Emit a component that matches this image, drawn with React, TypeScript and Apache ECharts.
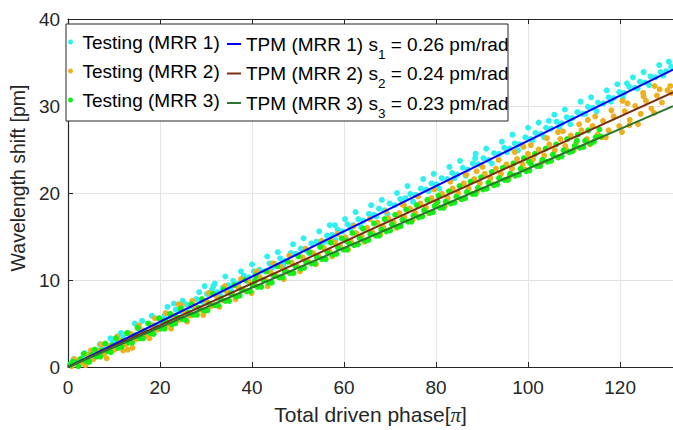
import React, { useEffect, useRef } from "react";
import * as echarts from "echarts";

const FONT = "'Liberation Sans', Arial, Helvetica, sans-serif";

const xTicks = [0, 20, 40, 60, 80, 100, 120];
const yTicks = [0, 10, 20, 30, 40];

const names = ["Testing (MRR 1)", "Testing (MRR 2)", "Testing (MRR 3)"];
const lineNames = ["TPM (MRR 1)", "TPM (MRR 2)", "TPM (MRR 3)"];
const slopes = ["0.26", "0.24", "0.23"];

const testing1: number[][] = [
  [0.5, 0.3], [1.8, 0.6], [3.0, 1.0], [4.1, 0.9], [5.3, 1.7], [6.2, 1.4], [7.5, 2.3], [8.6, 2.1], [9.7, 2.8], [10.9, 3.0],
  [12.0, 3.4], [13.2, 3.9], [14.1, 3.6], [15.4, 4.5], [16.5, 4.2], [17.6, 5.0], [18.8, 4.8], [19.9, 5.6], [21.0, 5.9], [22.3, 5.7],
  [23.4, 6.6], [24.5, 6.4], [25.7, 7.2], [26.8, 7.0], [27.9, 7.8], [29.1, 7.5], [30.2, 8.4], [31.3, 8.9], [32.5, 8.6], [33.6, 9.1],
  [34.8, 9.4], [35.9, 9.9], [37.0, 9.6], [38.2, 10.5], [39.3, 10.3], [40.4, 11.0], [41.6, 11.2], [42.7, 11.0], [43.8, 11.9], [45.0, 11.8],
  [46.1, 12.5], [47.2, 12.2], [48.4, 13.1], [49.5, 13.0], [50.6, 13.6], [51.8, 13.4], [52.9, 14.2], [54.0, 14.4], [55.2, 14.3], [56.3, 15.1],
  [57.4, 15.2], [58.6, 15.8], [59.7, 15.6], [60.8, 16.4], [62.0, 16.3], [63.1, 17.0], [64.2, 16.8], [65.4, 17.6], [66.5, 17.5], [67.6, 18.2],
  [68.8, 18.0], [69.9, 18.8], [71.0, 18.6], [72.2, 19.3], [73.3, 19.4], [74.4, 19.9], [75.6, 19.8], [76.7, 20.5], [77.8, 20.4], [79.0, 21.1],
  [80.1, 21.0], [81.2, 21.7], [82.4, 21.6], [83.5, 22.3], [84.6, 22.1], [85.8, 22.9], [86.9, 22.7], [88.0, 23.4], [89.2, 23.3], [90.3, 24.0],
  [91.4, 23.8], [92.6, 24.6], [93.7, 24.5], [94.8, 25.2], [96.0, 25.1], [97.1, 25.7], [98.2, 25.6], [99.4, 26.4], [100.5, 26.2], [101.6, 26.9],
  [102.8, 26.8], [103.9, 27.5], [105.0, 27.4], [106.2, 28.2], [107.3, 28.0], [108.4, 28.7], [109.6, 28.6], [110.7, 29.3], [111.8, 29.1], [113.0, 29.9],
  [114.1, 29.8], [115.2, 30.4], [116.4, 30.3], [117.5, 31.0], [118.6, 30.9], [119.8, 31.6], [120.9, 31.5], [122.0, 32.2], [123.2, 32.1], [124.3, 32.8],
  [125.4, 32.7], [126.6, 33.4], [127.7, 33.3], [128.8, 33.9], [130.0, 34.0], [131.1, 34.5],
  [2.4, 0.4], [8.0, 1.9], [14.8, 3.7], [20.5, 5.1], [27.3, 6.9], [33.0, 8.3], [38.8, 9.9], [44.4, 11.4], [50.0, 12.9], [55.8, 14.4],
  [61.4, 15.9], [67.0, 17.3], [72.8, 18.8], [78.4, 20.2], [84.0, 21.7], [89.8, 23.2], [95.4, 24.7], [101.0, 26.1], [106.8, 27.6], [112.4, 29.1],
  [118.0, 30.5], [123.8, 32.0], [129.4, 33.5], [31.6, 9.3], [58.0, 16.3], [88.5, 24.0], [104.5, 28.3], [121.5, 32.6],
  [1.2, 0.9], [3.6, 1.6], [4.8, 0.8], [6.9, 2.6], [9.2, 3.3], [11.5, 3.9], [12.7, 2.9], [14.5, 5.0], [16.1, 5.3], [18.2, 5.9],
  [19.4, 4.6], [21.6, 6.9], [23.0, 7.3], [24.9, 7.6], [26.2, 6.3], [28.5, 8.6], [29.7, 9.3], [31.9, 9.6], [34.2, 10.4], [35.4, 8.8],
  [37.6, 11.0], [40.0, 11.8], [41.1, 10.2], [43.3, 12.7], [45.6, 13.2], [46.8, 11.7], [48.9, 14.1], [51.2, 14.8], [52.4, 13.1], [54.6, 15.6],
  [56.9, 16.3], [58.1, 14.6], [60.2, 17.0], [62.5, 17.8], [63.7, 16.1], [65.9, 18.6], [68.2, 19.2], [69.4, 17.6], [71.5, 20.0], [73.8, 20.8],
  [75.0, 19.0], [77.2, 21.6], [79.5, 22.2], [80.7, 20.5], [82.9, 23.0], [85.2, 23.7], [86.4, 22.0], [88.6, 24.5], [90.9, 25.1], [92.1, 23.4],
  [94.3, 25.9], [96.6, 26.7], [97.8, 24.9], [100.0, 27.5], [102.3, 28.1], [103.5, 26.4], [105.7, 29.0], [108.0, 29.6], [109.2, 27.9], [111.4, 30.5],
  [113.7, 31.0], [114.9, 29.4], [117.1, 31.8], [119.4, 32.5], [120.6, 30.9], [122.8, 33.3], [125.1, 33.9], [126.3, 32.4], [128.5, 34.7], [130.6, 35.1],
];

const testing2: number[][] = [
  [0.8, 0.1], [2.0, 0.7], [3.1, 0.5], [4.3, 1.4], [5.5, 0.9], [6.6, 1.9], [7.8, 1.5], [9.0, 2.4], [10.1, 2.0], [11.3, 3.0],
  [12.5, 2.6], [13.6, 3.8], [14.8, 3.2], [16.0, 4.2], [17.1, 3.6], [18.3, 4.8], [19.5, 4.3], [20.6, 5.3], [21.8, 4.9], [23.0, 5.9],
  [24.1, 5.4], [25.3, 6.4], [26.5, 5.9], [27.6, 7.0], [28.8, 6.6], [30.0, 7.6], [31.1, 7.0], [32.3, 8.1], [33.5, 7.7], [34.6, 8.6],
  [35.8, 8.3], [37.0, 9.2], [38.1, 8.8], [39.3, 9.8], [40.5, 9.4], [41.6, 10.4], [42.8, 10.0], [44.0, 10.9], [45.1, 10.5], [46.3, 11.5],
  [47.5, 11.0], [48.6, 12.0], [49.8, 11.6], [51.0, 12.6], [52.1, 12.2], [53.3, 13.1], [54.5, 12.7], [55.6, 13.7], [56.8, 13.3], [58.0, 14.3],
  [59.1, 13.9], [60.3, 14.9], [61.5, 14.4], [62.6, 15.4], [63.8, 15.0], [65.0, 16.0], [66.1, 15.5], [67.3, 16.6], [68.5, 16.1], [69.6, 17.1],
  [70.8, 16.6], [72.0, 17.7], [73.1, 17.2], [74.3, 18.2], [75.5, 17.7], [76.6, 18.8], [77.8, 18.3], [79.0, 19.4], [80.1, 18.8], [81.3, 19.9],
  [82.5, 19.4], [83.6, 20.5], [84.8, 20.0], [86.0, 21.1], [87.1, 20.5], [88.3, 21.6], [89.5, 21.1], [90.6, 22.2], [91.8, 21.7], [93.0, 22.8],
  [94.1, 22.2], [95.3, 23.3], [96.5, 22.8], [97.6, 23.9], [98.8, 23.3], [100.0, 24.5], [101.1, 23.9], [102.3, 25.0], [103.5, 24.3], [104.6, 25.6],
  [105.8, 24.9], [107.0, 26.2], [108.1, 25.4], [109.3, 26.6], [110.5, 25.8], [111.6, 27.2], [112.8, 26.2], [114.0, 27.7], [115.1, 26.7], [116.3, 28.3],
  [117.5, 27.2], [118.6, 28.8], [119.8, 27.7], [121.0, 29.4], [122.1, 28.4], [123.3, 30.0], [124.5, 29.1], [125.6, 30.6], [126.8, 29.7], [128.0, 31.2],
  [129.1, 30.4], [130.3, 31.8], [131.2, 31.5],
  [14.0, 2.2], [24.0, 7.2], [41.0, 10.9], [57.0, 14.6], [73.0, 18.6], [88.8, 22.5], [99.0, 25.3], [106.5, 27.0], [113.0, 28.4], [120.5, 30.6],
  [125.0, 31.5], [127.5, 32.3], [108.5, 24.9], [116.0, 26.4], [122.0, 27.8],
  [1.4, 0.9], [3.8, 0.2], [5.0, 1.9], [7.2, 2.6], [8.4, 1.0], [10.7, 3.5], [12.0, 1.9], [13.0, 2.0], [15.4, 4.8], [17.7, 3.3],
  [18.9, 5.6], [21.2, 6.2], [22.4, 4.4], [24.7, 7.1], [25.9, 5.2], [27.0, 7.6], [29.4, 6.0], [30.6, 8.5], [32.9, 6.9], [34.1, 9.3],
  [36.4, 7.8], [37.6, 10.1], [39.9, 8.5], [41.1, 11.0], [43.4, 9.3], [44.6, 11.9], [46.9, 10.1], [48.1, 12.8], [50.4, 11.0], [51.6, 13.6],
  [53.9, 11.8], [55.1, 14.5], [57.4, 12.7], [58.6, 15.3], [60.9, 13.5], [62.1, 16.2], [64.4, 14.4], [65.6, 17.0], [67.9, 15.2], [69.1, 17.9],
  [71.4, 16.0], [72.6, 18.7], [74.9, 16.9], [76.1, 19.6], [78.4, 17.7], [79.6, 20.4], [81.9, 18.5], [83.1, 21.3], [85.4, 19.3], [86.6, 22.1],
  [88.9, 20.2], [90.1, 23.0], [92.4, 21.0], [93.6, 23.8], [95.9, 21.8], [97.1, 24.7], [99.4, 22.7], [100.6, 25.5], [102.9, 23.5], [104.1, 26.3],
  [106.4, 24.1], [107.6, 27.1], [109.9, 24.9], [111.1, 27.9], [113.4, 25.6], [114.6, 28.8], [116.9, 26.4], [118.1, 29.5], [120.4, 27.0], [121.6, 30.3],
  [123.9, 27.9], [125.1, 31.1], [127.4, 29.2], [128.6, 31.9], [130.9, 32.3],
];

const testing3: number[][] = [
  [0.4, 0.2], [1.6, 0.5], [2.7, 0.9], [3.9, 0.7], [5.1, 1.4], [6.2, 1.2], [7.4, 1.9], [8.6, 1.8], [9.7, 2.5], [10.9, 2.2],
  [12.1, 3.0], [13.2, 2.8], [14.4, 3.6], [15.6, 3.3], [16.7, 4.1], [17.9, 3.9], [19.1, 4.6], [20.2, 4.4], [21.4, 5.2], [22.6, 4.9],
  [23.7, 5.7], [24.9, 5.5], [26.1, 6.2], [27.2, 6.0], [28.4, 6.8], [29.6, 6.5], [30.7, 7.3], [31.9, 7.1], [33.1, 7.8], [34.2, 7.6],
  [35.4, 8.4], [36.6, 8.1], [37.7, 8.9], [38.9, 8.7], [40.1, 9.4], [41.2, 9.2], [42.4, 10.0], [43.6, 9.7], [44.7, 10.5], [45.9, 10.3],
  [47.1, 11.0], [48.2, 10.8], [49.4, 11.6], [50.6, 11.3], [51.7, 12.1], [52.9, 11.9], [54.1, 12.6], [55.2, 12.4], [56.4, 13.2], [57.6, 12.9],
  [58.7, 13.7], [59.9, 13.5], [61.1, 14.2], [62.2, 14.0], [63.4, 14.8], [64.6, 14.5], [65.7, 15.3], [66.9, 15.1], [68.1, 15.8], [69.2, 15.6],
  [70.4, 16.4], [71.6, 16.1], [72.7, 16.9], [73.9, 16.7], [75.1, 17.4], [76.2, 17.2], [77.4, 18.0], [78.6, 17.7], [79.7, 18.5], [80.9, 18.3],
  [82.1, 19.0], [83.2, 18.8], [84.4, 19.6], [85.6, 19.3], [86.7, 20.1], [87.9, 19.9], [89.1, 20.6], [90.2, 20.4], [91.4, 21.2], [92.6, 20.9],
  [93.7, 21.7], [94.9, 21.5], [96.1, 22.2], [97.2, 22.0], [98.4, 22.8], [99.6, 22.5], [100.7, 23.3], [101.9, 23.1], [103.1, 23.8], [104.2, 23.6],
  [105.4, 24.4], [106.6, 24.1], [107.7, 24.9], [108.9, 24.7], [110.1, 25.4], [111.2, 25.2], [112.4, 26.0], [113.6, 25.7], [114.7, 26.4], [115.8, 26.5],
  [20.8, 5.3], [40.6, 9.9], [60.5, 14.5], [80.3, 19.0], [100.2, 23.6], [110.6, 26.0],
  [1.0, 0.6], [2.2, 0.1], [3.4, 1.5], [4.6, 0.6], [5.8, 2.0], [7.0, 1.2], [8.1, 2.7], [9.3, 1.7], [10.4, 3.3], [11.6, 2.3],
  [12.8, 3.9], [13.9, 2.8], [15.1, 4.5], [16.3, 3.3], [17.4, 5.0], [18.6, 3.8], [19.8, 5.6], [21.0, 4.4], [22.2, 6.1], [23.3, 5.0],
  [24.5, 6.7], [25.6, 5.4], [26.8, 7.2], [28.0, 6.0], [29.1, 7.8], [30.3, 6.5], [31.5, 8.4], [32.6, 7.1], [33.8, 8.9], [35.0, 7.6],
  [36.1, 9.4], [37.3, 8.2], [38.5, 10.0], [39.6, 8.7], [40.8, 10.5], [42.0, 9.2], [43.1, 11.0], [44.3, 9.7], [45.5, 11.6], [46.6, 10.3],
  [47.8, 12.1], [49.0, 10.8], [50.1, 12.7], [51.3, 11.4], [52.5, 13.2], [53.6, 11.9], [54.8, 13.8], [56.0, 12.4], [57.1, 14.3], [58.3, 13.0],
  [59.5, 14.8], [60.6, 13.5], [61.8, 15.4], [63.0, 14.1], [64.1, 15.9], [65.3, 14.6], [66.5, 16.5], [67.6, 15.1], [68.8, 17.0], [70.0, 15.7],
  [71.1, 17.5], [72.3, 16.2], [73.5, 18.1], [74.6, 16.7], [75.8, 18.6], [77.0, 17.3], [78.1, 19.2], [79.3, 17.8], [80.5, 19.7], [81.6, 18.3],
  [82.8, 20.2], [84.0, 18.9], [85.1, 20.8], [86.3, 19.4], [87.5, 21.3], [88.6, 19.9], [89.8, 21.8], [91.0, 20.5], [92.1, 22.4], [93.3, 21.0],
  [94.5, 22.9], [95.6, 21.5], [96.8, 23.4], [98.0, 22.1], [99.1, 24.0], [100.3, 22.6], [101.5, 24.5], [102.6, 23.1], [103.8, 25.1], [105.0, 23.7],
  [106.1, 25.6], [107.3, 24.2], [108.5, 26.2], [109.6, 24.8], [110.8, 26.7], [112.0, 25.3], [113.1, 27.2], [114.3, 25.9], [115.5, 27.3],
];

const fitX = [0, 131.5];
const fit1 = [0, 34.19];
const fit2 = [0, 31.56];
const fit3 = [0, 29.98];

const colors = {
  c1: "#2ef0f0",
  c2: "#edb120",
  c3: "#14ef14",
  l1: "#0000ff",
  l2: "#7a2e0e",
  l3: "#2e7530",
};

export default function App() {
  const ref = useRef<HTMLDivElement>(null);
  useEffect(() => {
    if (!ref.current) return;
    const chart = echarts.init(ref.current, null, { renderer: "svg" });
    const axisColor = "#262626";
    const lineData = (ys: number[]) => fitX.map((x, i) => [x, ys[i]]);
    const tpmTops = [27, 56.5, 86];
    const tpmLegends = lineNames.map((n, i) => ({
      data: [n],
      orient: "vertical",
      left: 227,
      top: tpmTops[i],
      padding: 0,
      itemWidth: 14,
      itemHeight: 2,
      icon: "rect",
      formatter: (nm: string) => {
        const k = lineNames.indexOf(nm);
        return `${nm} s{sub|${k + 1}} = ${slopes[k]} pm/rad`;
      },
      textStyle: {
        fontSize: 19,
        color: "#000",
        fontFamily: FONT,
        lineHeight: 24,
        rich: { sub: { fontSize: 13.5, lineHeight: 4, fontFamily: FONT, color: "#000", padding: [20, 0, 0, 0] } },
      },
      z: 10,
    }));
    const option: any = {
      animation: false,
      backgroundColor: "#ffffff",
      textStyle: { fontFamily: FONT },
      grid: { left: 62, right: 0, top: 19, bottom: 59 },
      xAxis: [
        {
          type: "value",
          min: 0,
          max: 131.5,
          interval: 20,
          position: "bottom",
          name: "Total driven phase[{pi|π}]",
          nameLocation: "middle",
          nameGap: 37,
          nameTextStyle: {
            fontSize: 21,
            color: axisColor,
            fontFamily: FONT,
            rich: { pi: { fontSize: 21, fontFamily: "'Liberation Serif', 'DejaVu Serif', serif", fontStyle: "italic", color: axisColor } },
          },
          axisLine: { show: true, lineStyle: { color: axisColor, width: 1.2 } },
          axisTick: { show: true, inside: true, length: 5, lineStyle: { color: axisColor } },
          axisLabel: {
            fontSize: 19,
            color: axisColor,
            fontFamily: FONT,
            margin: 11,
            showMaxLabel: false,
            formatter: (v: number) => (xTicks.includes(v) ? String(v) : ""),
          },
          splitLine: { show: true, lineStyle: { color: "#e3e3e3", width: 1 } },
        },
        {
          type: "value",
          min: 0,
          max: 131.5,
          interval: 20,
          position: "top",
          axisLine: { show: true, lineStyle: { color: axisColor, width: 1.2 } },
          axisTick: { show: true, inside: true, length: 5, lineStyle: { color: axisColor } },
          axisLabel: { show: false },
          splitLine: { show: false },
        },
      ],
      yAxis: {
        type: "value",
        min: 0,
        max: 40,
        interval: 10,
        name: "Wavelength shift [pm]",
        nameLocation: "middle",
        nameGap: 34,
        nameTextStyle: { fontSize: 19.5, color: axisColor, fontFamily: FONT, padding: [0, 0, 0, 30] },
        axisLine: { show: true, lineStyle: { color: axisColor, width: 1.2 } },
        axisTick: { show: true, inside: true, length: 5, lineStyle: { color: axisColor } },
        axisLabel: {
          fontSize: 19,
          color: axisColor,
          fontFamily: FONT,
          margin: 8,
          formatter: (v: number) => (yTicks.includes(v) ? String(v) : ""),
        },
        splitLine: { show: true, lineStyle: { color: "#e3e3e3", width: 1 } },
      },
      legend: [
        {
          data: names,
          orient: "vertical",
          left: 68,
          top: 30,
          padding: 0,
          itemWidth: 14,
          itemHeight: 5,
          itemGap: 5,
          icon: "circle",
          textStyle: { fontSize: 19, color: "#000", fontFamily: FONT, lineHeight: 24 },
          z: 10,
        },
        ...tpmLegends,
      ],
      graphic: [
        {
          type: "rect",
          z: 8,
          shape: { x: 66, y: 24, width: 442, height: 97 },
          style: { fill: "#ffffff", stroke: "#262626", lineWidth: 1 },
        },
      ],
      series: [
        { name: names[0], type: "scatter", data: testing1, symbolSize: 6, itemStyle: { color: colors.c1, opacity: 1 } },
        { name: names[1], type: "scatter", data: testing2, symbolSize: 6, itemStyle: { color: colors.c2, opacity: 1 } },
        { name: names[2], type: "scatter", data: testing3, symbolSize: 6, itemStyle: { color: colors.c3, opacity: 1 } },
        { name: lineNames[0], type: "line", data: lineData(fit1), symbol: "none", lineStyle: { color: colors.l1, width: 2 }, itemStyle: { color: colors.l1 } },
        { name: lineNames[1], type: "line", data: lineData(fit2), symbol: "none", lineStyle: { color: colors.l2, width: 2 }, itemStyle: { color: colors.l2 } },
        { name: lineNames[2], type: "line", data: lineData(fit3), symbol: "none", lineStyle: { color: colors.l3, width: 2 }, itemStyle: { color: colors.l3 } },
      ],
    };
    chart.setOption(option);
    return () => chart.dispose();
  }, []);
  return <div ref={ref} style={{ width: 673, height: 430, position: "absolute", left: 0, top: 0 }} />;
}
